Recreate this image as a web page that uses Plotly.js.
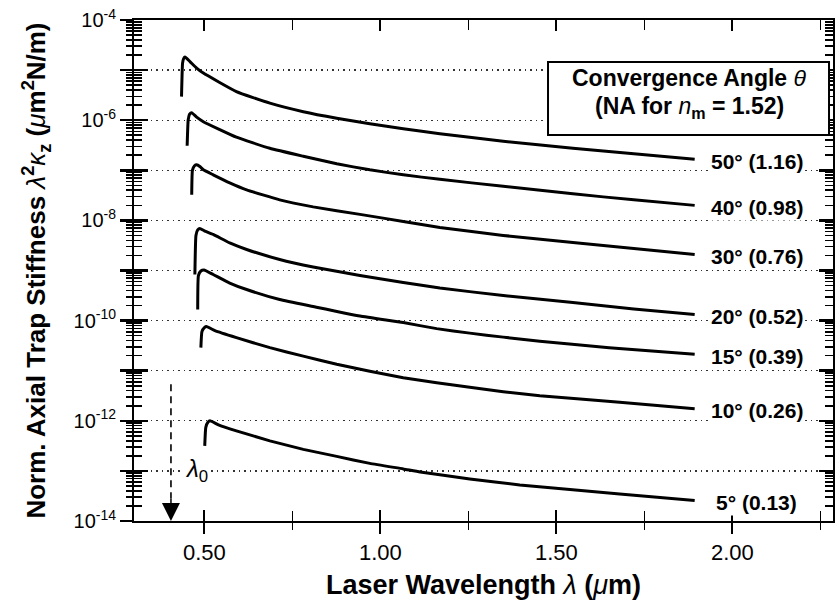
<!DOCTYPE html>
<html>
<head>
<meta charset="utf-8">
<script src="https://cdn.plot.ly/plotly-3.0.1.min.js"></script>
<style>html,body{margin:0;padding:0;background:#fff;}</style>
</head>
<body>
<div id="chart" style="width:835px;height:607px;"></div>
<script>
// ---- data (wavelength in µm, log10 of λ²κz) ----
const angleLabels = ['50° (1.16)', '40° (0.98)', '30° (0.76)', '20° (0.52)', '15° (0.39)', '10° (0.26)', '5° (0.13)'];

const lam50  = [0.435, 0.438, 0.441, 0.445, 0.459, 0.478, 0.497, 0.591, 0.686, 0.781, 0.876, 0.970, 1.065, 1.169, 1.349, 1.547, 1.720, 1.893];
const logK50 = [-5.53, -4.86, -4.77, -4.74, -4.83, -4.96, -5.06, -5.43, -5.66, -5.83, -5.96, -6.07, -6.17, -6.27, -6.42, -6.56, -6.67, -6.78];

const lam40  = [0.451, 0.454, 0.458, 0.464, 0.478, 0.497, 0.591, 0.686, 0.781, 0.876, 0.970, 1.065, 1.169, 1.349, 1.547, 1.720, 1.893];
const logK40 = [-6.51, -5.99, -5.88, -5.85, -5.94, -6.03, -6.34, -6.56, -6.72, -6.87, -6.99, -7.09, -7.18, -7.32, -7.47, -7.59, -7.70];

const lam30  = [0.464, 0.466, 0.472, 0.478, 0.488, 0.497, 0.525, 0.572, 0.620, 0.714, 0.809, 0.942, 1.065, 1.169, 1.349, 1.547, 1.720, 1.893];
const logK30 = [-7.49, -7.00, -6.91, -6.89, -6.93, -6.99, -7.09, -7.25, -7.39, -7.59, -7.73, -7.88, -8.02, -8.14, -8.30, -8.44, -8.56, -8.68];

const lam20  = [0.473, 0.476, 0.481, 0.487, 0.500, 0.525, 0.572, 0.620, 0.714, 0.809, 0.942, 1.065, 1.169, 1.349, 1.547, 1.720, 1.893];
const logK20 = [-9.08, -8.30, -8.19, -8.16, -8.21, -8.28, -8.45, -8.58, -8.78, -8.93, -9.10, -9.24, -9.35, -9.50, -9.64, -9.77, -9.88];

const lam15  = [0.481, 0.483, 0.490, 0.499, 0.525, 0.572, 0.620, 0.714, 0.809, 0.942, 1.065, 1.160, 1.254, 1.349, 1.453, 1.650, 1.893];
const logK15 = [-9.78, -9.10, -9.01, -8.99, -9.08, -9.25, -9.38, -9.58, -9.72, -9.91, -10.04, -10.16, -10.25, -10.33, -10.41, -10.54, -10.67];

const lam10  = [0.490, 0.493, 0.500, 0.506, 0.530, 0.591, 0.686, 0.781, 0.876, 0.970, 1.065, 1.160, 1.254, 1.349, 1.453, 1.680, 1.893];
const logK10 = [-10.54, -10.22, -10.14, -10.12, -10.20, -10.34, -10.54, -10.71, -10.87, -11.01, -11.14, -11.24, -11.33, -11.42, -11.50, -11.63, -11.76];

const lam5   = [0.501, 0.504, 0.510, 0.516, 0.540, 0.591, 0.686, 0.781, 0.876, 0.970, 1.065, 1.113, 1.254, 1.396, 1.680, 1.893];
const logK5  = [-12.50, -12.13, -12.03, -12.00, -12.08, -12.20, -12.40, -12.57, -12.71, -12.85, -12.96, -13.02, -13.16, -13.28, -13.46, -13.59];

// λ0 marker (µm) and the exponents where its dashed line starts / ends
const lambda0 = 0.405;
const lambda0Exp = [-11.27, -13.55];

// axis ticks
const yTickExp    = [-14, -13, -12, -11, -10, -9, -8, -7, -6, -5, -4];
const yTickLabels = ['10<sup>-14</sup>', '', '10<sup>-12</sup>', '', '10<sup>-10</sup>', '', '10<sup>-8</sup>', '', '10<sup>-6</sup>', '', '10<sup>-4</sup>'];
const xRange = [0.3, 2.286];

// legend box texts
const boxLines = ['<b>Convergence Angle </b><i>θ</i>', '<b>(NA for </b><i>n</i><sub><b>m</b></sub><b> = 1.52)</b>'];

// ---- build ----
const FONT = '"Liberation Sans", Arial, Helvetica, sans-serif';
const series = [
  {lam: lam50, logK: logK50, label: angleLabels[0]},
  {lam: lam40, logK: logK40, label: angleLabels[1]},
  {lam: lam30, logK: logK30, label: angleLabels[2]},
  {lam: lam20, logK: logK20, label: angleLabels[3]},
  {lam: lam15, logK: logK15, label: angleLabels[4]},
  {lam: lam10, logK: logK10, label: angleLabels[5]},
  {lam: lam5,  logK: logK5,  label: angleLabels[6]}
];
const pow10 = v => Math.pow(10, v);

const traces = series.map(s => ({
  type: 'scatter', mode: 'lines', name: s.label,
  x: s.lam, y: s.logK.map(pow10),
  line: {color: '#000', width: 3, shape: 'spline', smoothing: 0.4},
  hoverinfo: 'skip', showlegend: false
}));
traces.push({
  type: 'scatter', mode: 'lines', xaxis: 'x2', yaxis: 'y2',
  x: [lambda0, lambda0], y: lambda0Exp.map(pow10),
  line: {color: '#000', width: 1.6, dash: '7px,5px'},
  hoverinfo: 'skip', showlegend: false
});

const yVals = yTickExp.map(pow10);

const annotations = series.map(s => ({
  xref: 'x', yref: 'y',
  x: s.lam[s.lam.length - 1], y: s.logK[s.logK.length - 1],
  xshift: 62, yshift: -2, xanchor: 'center', yanchor: 'middle',
  text: '<b>' + s.label + '</b>', showarrow: false,
  bgcolor: '#fff', font: {family: FONT, size: 21, color: '#000'}
}));
annotations.push({
  xref: 'paper', yref: 'paper', x: 0.7954, y: 0.884, xanchor: 'center', yanchor: 'middle',
  text: boxLines[0], showarrow: false, font: {family: FONT, size: 23, color: '#000'}
});
annotations.push({
  xref: 'paper', yref: 'paper', x: 0.7954, y: 0.826, xanchor: 'center', yanchor: 'middle',
  text: boxLines[1], showarrow: false, font: {family: FONT, size: 23, color: '#000'}
});
annotations.push({
  xref: 'x', yref: 'y', x: lambda0, y: -13, xshift: 26, yshift: 0,
  text: '<i>λ</i><sub>0</sub>', showarrow: false, bgcolor: '#fff',
  font: {family: FONT, size: 24, color: '#000'}
});
annotations.push({
  xref: 'x', yref: 'y', x: lambda0, y: yTickExp[0], ax: 0, ay: -24,
  text: '', showarrow: true, arrowhead: 2, arrowsize: 2.4, arrowwidth: 1.5, arrowcolor: '#000', standoff: 0
});

const tickCommon = {tickcolor: '#000', zeroline: false};
const layout = {
  width: 835, height: 607,
  margin: {l: 134, r: 2, t: 20, b: 86, pad: 0},
  paper_bgcolor: '#fff', plot_bgcolor: '#fff',
  font: {family: FONT, color: '#000', size: 20},
  showlegend: false,
  xaxis: Object.assign({}, tickCommon, {
    range: xRange, tickmode: 'linear', tick0: 0, dtick: 0.5, tickformat: '.2f',
    ticks: 'outside', ticklen: 11, tickwidth: 2,
    minor: {ticks: 'outside', tick0: 0, dtick: 0.25, ticklen: 7, tickwidth: 1.6, tickcolor: '#000', showgrid: false},
    showline: true, linewidth: 2, linecolor: '#000', mirror: true, showgrid: false,
    tickfont: {family: FONT, size: 22, color: '#000'},
    title: {text: '<b>Laser Wavelength </b><i>λ</i><b> (</b><i>μ</i><b>m)</b>', font: {family: FONT, size: 27, color: '#000'}, standoff: 11}
  }),
  xaxis2: Object.assign({}, tickCommon, {
    overlaying: 'x', anchor: 'y', side: 'bottom', range: xRange,
    tickmode: 'linear', tick0: 0, dtick: 0.5, ticks: 'inside', ticklen: 11, tickwidth: 2,
    minor: {ticks: 'inside', tick0: 0, dtick: 0.25, ticklen: 10, tickwidth: 1.6, tickcolor: '#000', showgrid: false},
    showticklabels: false, showline: false, mirror: 'ticks', showgrid: false
  }),
  yaxis: Object.assign({}, tickCommon, {
    type: 'log', range: [yTickExp[0], yTickExp[yTickExp.length - 1]],
    tickmode: 'array', tickvals: yVals, ticktext: yTickLabels,
    ticks: 'outside', ticklen: 12, tickwidth: 2.5,
    minor: {ticks: 'outside', dtick: 'D1', ticklen: 6, tickwidth: 1.6, tickcolor: '#000', showgrid: false},
    showline: true, linewidth: 2, linecolor: '#000', mirror: true,
    showgrid: true, gridcolor: '#333', gridwidth: 1.3, griddash: '1.5px,4px',
    tickfont: {family: FONT, size: 20, color: '#000'},
    title: {text: '<b>Norm. Axial Trap Stiffness </b><i>λ</i><sup><b>2</b></sup><i>κ</i><sub><b>z</b></sub><b> (</b><i>μ</i><b>m</b><sup><b>2</b></sup><b>N/m)</b>',
            font: {family: FONT, size: 26, color: '#000'}, standoff: 20}
  }),
  yaxis2: Object.assign({}, tickCommon, {
    type: 'log', overlaying: 'y', anchor: 'x2', side: 'left',
    range: [yTickExp[0], yTickExp[yTickExp.length - 1]],
    tickmode: 'array', tickvals: yVals, ticks: 'inside', ticklen: 14, tickwidth: 2.5,
    minor: {ticks: 'inside', dtick: 'D1', ticklen: 8, tickwidth: 1.6, tickcolor: '#000', showgrid: false},
    showticklabels: false, showline: false, mirror: 'ticks', showgrid: false
  }),
  shapes: [
    {type: 'line', xref: 'paper', yref: 'paper', x0: -0.017, x1: 0, y0: 0, y1: 0, line: {color: '#000', width: 2}},
    {type: 'line', xref: 'paper', yref: 'paper', x0: -0.017, x1: 0, y0: 1, y1: 1, line: {color: '#000', width: 2}},
    {type: 'rect', xref: 'paper', yref: 'paper', x0: 0.5923, x1: 0.9943, y0: 0.7705, y1: 0.9162,
     layer: 'above', fillcolor: '#fff', line: {color: '#000', width: 2}}
  ],
  annotations: annotations
};

Plotly.newPlot('chart', traces, layout, {staticPlot: true, displayModeBar: false});
</script>
</body>
</html>
